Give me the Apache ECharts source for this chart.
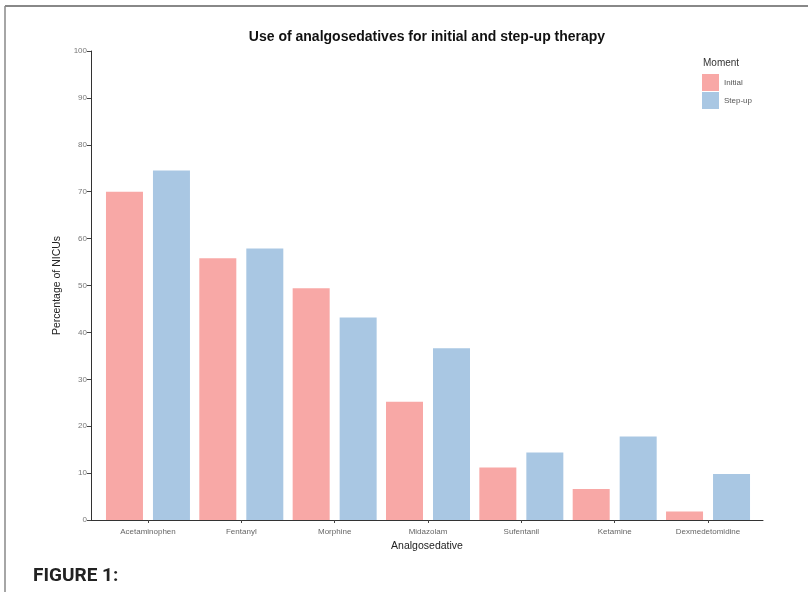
<!DOCTYPE html>
<html>
<head>
<meta charset="utf-8">
<script src="https://cdn.jsdelivr.net/npm/echarts@6/dist/echarts.min.js"></script>
<style>
html,body{margin:0;padding:0;background:#fff;}
#chart{width:808px;height:592px;}
</style>
</head>
<body>
<div id="chart"></div>
<script>
const categories = ["Acetaminophen", "Fentanyl", "Morphine", "Midazolam", "Sufentanil", "Ketamine", "Dexmedetomidine"];
const initialValues = [70.0, 55.8, 49.4, 25.2, 11.2, 6.6, 1.8];
const stepUpValues = [74.5, 57.9, 43.2, 36.6, 14.4, 17.8, 9.8];
const yTicks = [0, 10, 20, 30, 40, 50, 60, 70, 80, 90, 100];
const seriesNames = ["Initial", "Step-up"];
const colors = ["#F8A8A6", "#A9C7E3"];

const chart = echarts.init(document.getElementById('chart'), null, {renderer: 'canvas'});

const plotTop = 51, plotBottom = 72;
const option = {
  backgroundColor: '#ffffff',
  animation: false,
  grid: [
    {left: 101.3, right: 53.3, top: plotTop, bottom: plotBottom, containLabel: false},
    {left: 91, right: 45, top: plotTop, bottom: plotBottom, containLabel: false}
  ],
  legend: {
    data: seriesNames,
    orient: 'vertical',
    left: 697, top: 69,
    itemWidth: 17, itemHeight: 17, itemGap: 1,
    icon: 'rect',
    textStyle: {fontSize: 8, color: '#555', fontFamily: 'Liberation Sans, Arial, sans-serif'}
  },
  xAxis: [
    {
      type: 'category', gridIndex: 0, data: categories,
      axisLine: {show: false},
      axisTick: {show: true, alignWithLabel: true, length: 3, lineStyle: {color: '#444'}},
      axisLabel: {fontSize: 8, color: '#666', margin: 8, fontFamily: 'Liberation Sans, Arial, sans-serif'},
      splitLine: {show: false}
    },
    {
      type: 'value', gridIndex: 1, min: 0, max: 1,
      axisLine: {show: true, lineStyle: {color: '#333', width: 1}},
      axisTick: {show: false}, axisLabel: {show: false}, splitLine: {show: false},
      name: 'Analgosedative', nameLocation: 'middle', nameGap: 21,
      nameTextStyle: {fontSize: 10.5, color: '#222', fontFamily: 'Liberation Sans, Arial, sans-serif'}
    }
  ],
  yAxis: [
    {
      type: 'value', gridIndex: 0, min: 0, max: 100, interval: 10,
      show: false
    },
    {
      type: 'value', gridIndex: 1, min: 0, max: 100, interval: 10,
      axisLine: {show: true, lineStyle: {color: '#333', width: 1}},
      axisTick: {show: true, length: 4, lineStyle: {color: '#444'}},
      axisLabel: {fontSize: 8, color: '#777', margin: 4,
        formatter: function (v) { return yTicks.indexOf(v) >= 0 ? String(v) : ''; },
        fontFamily: 'Liberation Sans, Arial, sans-serif'},
      splitLine: {show: false},
      name: 'Percentage of NICUs', nameLocation: 'middle', nameGap: 20, nameRotate: 90,
      nameTextStyle: {fontSize: 10.5, color: '#222', fontFamily: 'Liberation Sans, Arial, sans-serif'}
    }
  ],
  series: [
    {
      name: seriesNames[0], type: 'bar', xAxisIndex: 0, yAxisIndex: 0,
      data: initialValues, barWidth: 37, barGap: '27%',
      itemStyle: {color: colors[0]}
    },
    {
      name: seriesNames[1], type: 'bar', xAxisIndex: 0, yAxisIndex: 0,
      data: stepUpValues, barWidth: 37, barGap: '27%',
      itemStyle: {color: colors[1]}
    }
  ],
  graphic: [
    {type: 'line', shape: {x1: 5, y1: 6, x2: 808, y2: 6}, style: {stroke: '#888', lineWidth: 2}},
    {type: 'line', shape: {x1: 5, y1: 6, x2: 5, y2: 592}, style: {stroke: '#888', lineWidth: 1.5}},
    {type: 'text', x: 427, y: 37, style: {text: 'Use of analgosedatives for initial and step-up therapy',
      font: 'bold 14px "Liberation Sans", Arial, sans-serif', fill: '#111', textAlign: 'center', textVerticalAlign: 'middle'}},
    {type: 'text', x: 703, y: 63, style: {text: 'Moment', font: '10px "Liberation Sans", Arial, sans-serif',
      fill: '#333', textAlign: 'left', textVerticalAlign: 'middle'}},
    {type: 'text', x: 33, y: 576, style: {text: 'FIGURE 1:', font: 'bold 19px Roboto, "Open Sans", sans-serif',
      fill: '#222', textAlign: 'left', textVerticalAlign: 'middle'}}
  ]
};
chart.setOption(option);
</script>
</body>
</html>
